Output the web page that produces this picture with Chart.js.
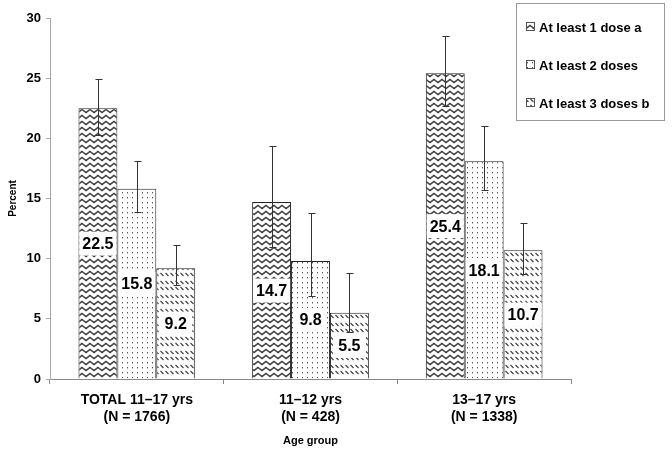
<!DOCTYPE html>
<html><head><meta charset="utf-8">
<script src="https://cdn.jsdelivr.net/npm/chart.js@4/dist/chart.umd.min.js"></script>
<style>html,body{margin:0;padding:0;background:#fff}#wrap{width:672px;height:456px}</style>
</head><body><div id="wrap"><canvas id="c" width="672" height="456"></canvas></div>
<script>
const categories = [["TOTAL 11\u201317 yrs","(N = 1766)"],["11\u201312 yrs","(N = 428)"],["13\u201317 yrs","(N = 1338)"]];
const seriesNames = ["At least 1 dose a","At least 2 doses","At least 3 doses b"];
const dose1 = [22.5, 14.7, 25.4];
const dose1Low = [20.3, 11.0, 22.7];
const dose1High = [24.9, 19.4, 28.5];
const dose2 = [15.8, 9.8, 18.1];
const dose2Low = [13.9, 6.9, 15.7];
const dose2High = [18.1, 13.8, 21.0];
const dose3 = [9.2, 5.5, 10.7];
const dose3Low = [7.8, 3.9, 8.7];
const dose3High = [11.1, 8.8, 13.0];
const yTickValues = [0, 5, 10, 15, 20, 25, 30];
const xTitle = "Age group";
const yTitle = "Percent";

const FONT = "'Liberation Sans', Arial, sans-serif";

function makeTile(w, h, draw) {
  const c = document.createElement('canvas');
  c.width = w; c.height = h;
  const g = c.getContext('2d');
  g.fillStyle = '#fff'; g.fillRect(0, 0, w, h);
  draw(g);
  return document.createElement('canvas').getContext('2d').createPattern(c, 'repeat');
}
const zigzag = makeTile(8, 6, g => {
  g.strokeStyle = '#404040'; g.lineWidth = 1.5;
  g.beginPath(); g.moveTo(-2, 4.5); g.lineTo(2, 1.5); g.lineTo(6, 4.5); g.lineTo(10, 1.5); g.stroke();
});
const dots = makeTile(5, 5, g => {
  g.fillStyle = '#555'; g.fillRect(2, 2, 1, 1);
  g.fillStyle = '#bbb'; g.fillRect(2, 3, 1, 1);
});
const diag = makeTile(5, 14, g => {
  g.strokeStyle = '#444'; g.lineWidth = 1.2;
  g.beginPath();
  for (const y0 of [1, 7]) {
    for (const dx of [-5, 0, 5]) { g.moveTo(dx + 0.5, y0); g.lineTo(dx + 3.5, y0 + 3); }
  }
  g.stroke();
});
const patterns = [zigzag, dots, diag];

const errLow = [dose1Low, dose2Low, dose3Low];
const errHigh = [dose1High, dose2High, dose3High];

const extras = {
  id: 'extras',
  afterDatasetsDraw(chart) {
    const ctx = chart.ctx;
    const y = chart.scales.y;
    chart.data.datasets.forEach((ds, di) => {
      const meta = chart.getDatasetMeta(di);
      meta.data.forEach((bar, i) => {
        const v = ds.data[i];
        const cy = y.getPixelForValue(v / 2);
        ctx.save();
        ctx.font = 'bold 16px ' + FONT;
        const txt = v.toFixed(1);
        const tw = ctx.measureText(txt).width;
        const bw = Math.max(tw + 6, 33);
        ctx.fillStyle = '#fff';
        ctx.fillRect(bar.x - bw / 2, cy - 12, bw, 24);
        ctx.fillStyle = '#000';
        ctx.textAlign = 'center'; ctx.textBaseline = 'middle';
        ctx.fillText(txt, bar.x, cy + 1);
        ctx.restore();
      });
    });
    chart.data.datasets.forEach((ds, di) => {
      const meta = chart.getDatasetMeta(di);
      meta.data.forEach((bar, i) => {
        const x = Math.round(bar.x) + 0.5;
        const yl = Math.round(y.getPixelForValue(errLow[di][i])) + 0.5;
        const yh = Math.round(y.getPixelForValue(errHigh[di][i])) + 0.5;
        ctx.save();
        ctx.strokeStyle = '#333'; ctx.lineWidth = 1;
        ctx.beginPath();
        ctx.moveTo(x, yl); ctx.lineTo(x, yh);
        ctx.moveTo(x - 3, yl); ctx.lineTo(x + 4, yl);
        ctx.moveTo(x - 3, yh); ctx.lineTo(x + 4, yh);
        ctx.stroke();
        ctx.restore();
      });
    });
  },
  afterDraw(chart) {
    const ctx = chart.ctx;
    ctx.save();
    ctx.fillStyle = '#fff';
    ctx.fillRect(516, 3, 148, 117);
    ctx.strokeStyle = '#999'; ctx.lineWidth = 1;
    ctx.strokeRect(516.5, 3.5, 148, 117);
    const ys = [27, 65, 103];
    seriesNames.forEach((name, i) => {
      const cy = ys[i];
      ctx.fillStyle = patterns[i];
      ctx.fillRect(526, cy - 5, 9, 9);
      ctx.strokeStyle = '#555';
      ctx.strokeRect(526.5, cy - 4.5, 8, 8);
      ctx.fillStyle = '#000';
      ctx.font = 'bold 13px ' + FONT;
      ctx.textAlign = 'left'; ctx.textBaseline = 'middle';
      ctx.fillText(name, 539, cy + 1);
    });
    ctx.restore();
  }
};

new Chart(document.getElementById('c'), {
  type: 'bar',
  data: {
    labels: categories,
    datasets: [
      { label: seriesNames[0], data: dose1, backgroundColor: zigzag },
      { label: seriesNames[1], data: dose2, backgroundColor: dots },
      { label: seriesNames[2], data: dose3, backgroundColor: diag }
    ].map(d => Object.assign(d, { borderColor: '#222', borderWidth: 1, categoryPercentage: 0.672, barPercentage: 1.0 }))
  },
  options: {
    responsive: false,
    animation: false,
    devicePixelRatio: 1,
    layout: { padding: { left: 0, right: 101, top: 18, bottom: 0 } },
    plugins: { legend: { display: false }, tooltip: { enabled: false } },
    scales: {
      x: {
        grid: { display: true, drawOnChartArea: false, drawTicks: true, tickLength: 5, color: '#888', offset: true },
        border: { display: true, color: '#888' },
        ticks: { color: '#000', font: { family: FONT, size: 14, weight: 'bold', lineHeight: 1.2 }, padding: 8, maxRotation: 0, autoSkip: false },
        title: { display: true, text: xTitle, color: '#000', font: { family: FONT, size: 11, weight: 'bold' }, padding: { top: 0, bottom: 8 } },
        afterFit(s) { s.height = 77; }
      },
      y: {
        min: 0, max: 30,
        afterBuildTicks(s) { s.ticks = yTickValues.map(v => ({ value: v })); },
        grid: { display: true, drawOnChartArea: false, drawTicks: true, tickLength: 4, color: '#aaa' },
        border: { display: true, color: '#aaa' },
        ticks: { color: '#000', font: { family: FONT, size: 13, weight: 'bold' }, padding: 5 },
        title: { display: true, text: yTitle, color: '#000', font: { family: FONT, size: 10, weight: 'bold' }, padding: { top: 7, bottom: 0 } },
        afterFit(s) { s.width = 50; }
      }
    }
  },
  plugins: [extras]
});
</script>
</body></html>
